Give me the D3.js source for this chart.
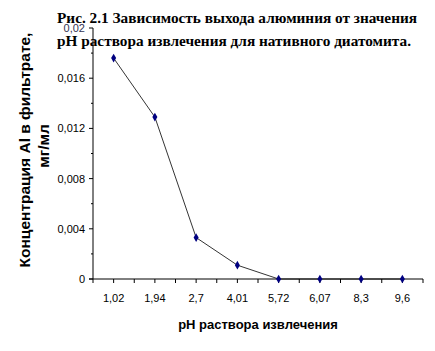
<!DOCTYPE html>
<html>
<head>
<meta charset="utf-8">
<script src="https://cdn.jsdelivr.net/npm/d3@7"></script>
<style>
  body { margin: 0; background: #fff; }
</style>
</head>
<body>
<div id="chart"></div>
<script>
const categories = ["1,02", "1,94", "2,7", "4,01", "5,72", "6,07", "8,3", "9,6"];
const values = [0.0176, 0.0129, 0.0033, 0.0011, 0, 0, 0, 0];
const yTicks = [0, 0.004, 0.008, 0.012, 0.016, 0.02];
const yMinorTicks = [0.002, 0.006, 0.01, 0.014, 0.018];

const W = 435, H = 351;
const plotLeft = 93, plotRight = 423, plotTop = 28, plotBottom = 279;

const svg = d3.select("#chart")
    .append("svg")
    .attr("width", W)
    .attr("height", H)
    .style("font-family", "'Liberation Sans', Arial, sans-serif");

const x = d3.scaleBand()
    .domain(categories)
    .range([plotLeft, plotRight]);

const y = d3.scaleLinear()
    .domain([0, 0.02])
    .range([plotBottom, plotTop]);

const fmt = d => d === 0 ? "0" : String(+d.toFixed(3)).replace(".", ",");

// y axis
svg.append("line")
    .attr("x1", plotLeft).attr("x2", plotLeft)
    .attr("y1", y(0.02)).attr("y2", y(0))
    .attr("stroke", "#000");

svg.selectAll(".ytick")
    .data(yTicks)
    .enter()
    .append("line")
    .attr("x1", plotLeft - 4).attr("x2", plotLeft)
    .attr("y1", d => y(d)).attr("y2", d => y(d))
    .attr("stroke", "#000");

svg.selectAll(".yminor")
    .data(yMinorTicks)
    .enter()
    .append("line")
    .attr("x1", plotLeft - 2).attr("x2", plotLeft)
    .attr("y1", d => y(d)).attr("y2", d => y(d))
    .attr("stroke", "#000");

svg.selectAll(".ylab")
    .data(yTicks)
    .enter()
    .append("text")
    .attr("x", plotLeft - 8)
    .attr("y", d => y(d) + 4)
    .attr("text-anchor", "end")
    .style("font-size", "11px")
    .attr("fill", d => d === 0.02 ? "#335" : "#000")
    .text(fmt);

// x axis
svg.append("line")
    .attr("x1", plotLeft - 4).attr("x2", plotRight)
    .attr("y1", plotBottom).attr("y2", plotBottom)
    .attr("stroke", "#000");

const xTickPos = [];
categories.forEach(c => {
    xTickPos.push(x(c));
    xTickPos.push(x(c) + x.bandwidth() / 2);
});
xTickPos.push(plotRight);

svg.selectAll(".xtick")
    .data(xTickPos)
    .enter()
    .append("line")
    .attr("x1", d => d).attr("x2", d => d)
    .attr("y1", plotBottom).attr("y2", plotBottom + 4)
    .attr("stroke", "#000");

svg.selectAll(".xlab")
    .data(categories)
    .enter()
    .append("text")
    .attr("x", d => x(d) + x.bandwidth() / 2)
    .attr("y", plotBottom + 23)
    .attr("text-anchor", "middle")
    .style("font-size", "11px")
    .text(d => d);

// line + markers
const line = d3.line()
    .x((d, i) => x(categories[i]) + x.bandwidth() / 2)
    .y(d => y(d));

svg.append("path")
    .datum(values)
    .attr("d", line)
    .attr("fill", "none")
    .attr("stroke", "#000")
    .attr("stroke-width", 0.8);

svg.selectAll(".pt")
    .data(values)
    .enter()
    .append("path")
    .attr("d", d3.symbol().type(d3.symbolDiamond).size(22))
    .attr("transform", (d, i) => `translate(${x(categories[i]) + x.bandwidth() / 2},${y(d)})`)
    .attr("fill", "#000080");

// axis titles
svg.append("text")
    .attr("x", 258)
    .attr("y", 329)
    .attr("text-anchor", "middle")
    .style("font-size", "13px")
    .style("font-weight", "bold")
    .text("pH раствора извлечения");

const yl = svg.append("text")
    .attr("transform", "translate(30,150) rotate(-90)")
    .attr("text-anchor", "middle")
    .style("font-size", "15.5px")
    .style("font-weight", "bold");
yl.append("tspan").attr("x", 0).attr("y", 0).text("Концентрация Al в фильтрате,");
yl.append("tspan").attr("x", 4).attr("y", 19).text("мг/мл");

// figure caption
const title = svg.append("text")
    .style("font-family", "'Liberation Serif', 'Times New Roman', serif")
    .style("font-size", "14px")
    .style("font-weight", "bold");
title.append("tspan").attr("x", 57).attr("y", 23)
    .attr("textLength", 360).attr("lengthAdjust", "spacingAndGlyphs")
    .text("Рис. 2.1 Зависимость выхода алюминия от значения");
title.append("tspan").attr("x", 57).attr("y", 46)
    .attr("textLength", 354).attr("lengthAdjust", "spacingAndGlyphs")
    .text("pH раствора извлечения для нативного диатомита.");
</script>
</body>
</html>
